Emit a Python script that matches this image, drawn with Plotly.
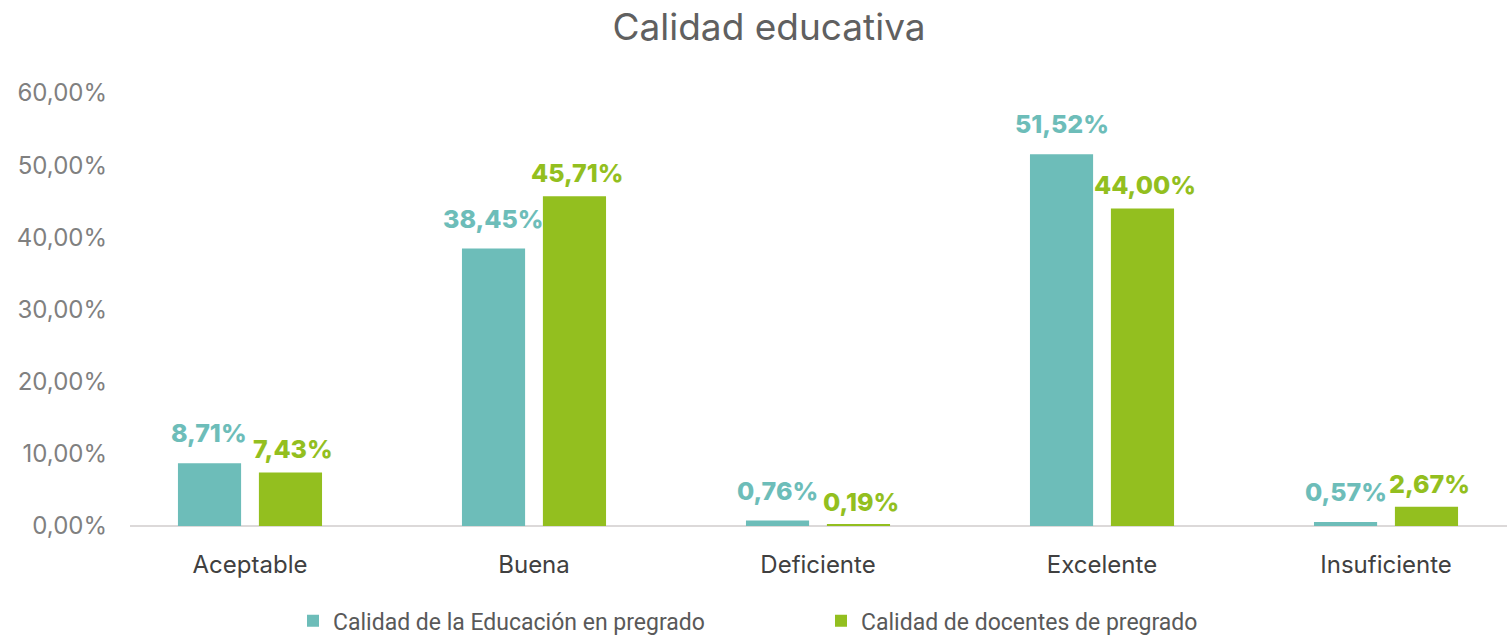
import plotly.graph_objects as go

categories = ["Aceptable", "Buena", "Deficiente", "Excelente", "Insuficiente"]
educacion = [8.71, 38.45, 0.76, 51.52, 0.57]
docentes = [7.43, 45.71, 0.19, 44.00, 2.67]
series_names = ["Calidad de la Educación en pregrado", "Calidad de docentes de pregrado"]
y_ticks = [0, 10, 20, 30, 40, 50, 60]


def pct(v):
    return f"{v:.2f}%".replace(".", ",")


TEAL = "#6dbdb9"
GREEN = "#93bf1f"
FONT = "Inter, Noto Sans, sans-serif"

fig = go.Figure()
# (name, values, colour, label x-offset px, label y-offset px)
series = [(series_names[0], educacion, TEAL, -40.5, 30),
          (series_names[1], docentes, GREEN, 43, 23)]
for name, vals, col, _, _ in series:
    fig.add_trace(go.Bar(
        x=categories, y=vals, name=name,
        marker=dict(color=col, line=dict(width=0)),
    ))

# value labels above each bar
for name, vals, col, dx, dy in series:
    for cat, v in zip(categories, vals):
        fig.add_annotation(
            x=cat, y=v, text=pct(v), showarrow=False,
            xanchor="center", yanchor="middle", xshift=dx, yshift=dy,
            font=dict(color=col, size=25, family=FONT, weight=800),
        )

fig.update_layout(
    width=1507, height=640,
    margin=dict(l=130, r=0, t=93, b=114),
    paper_bgcolor="white", plot_bgcolor="white",
    separators=",.",
    barmode="group", bargap=0.43, bargroupgap=0.22,
    title=dict(text="Calidad educativa", x=769 / 1507, xref="container", xanchor="center",
               y=1 - 27 / 640, yref="container", yanchor="middle",
               font=dict(size=37, color="#606060", family=FONT)),
    font=dict(family=FONT),
    showlegend=True,
    legend=dict(orientation="h", xref="container", x=293 / 1507, xanchor="left",
                yref="container", y=0.03, yanchor="middle",
                font=dict(size=23, color="#595959", family="Roboto, sans-serif"),
                entrywidth=483, itemwidth=30),
)
fig.update_xaxes(range=[-0.4225, 4.426], showgrid=False, showline=False, ticks="",
                 tickfont=dict(size=24, color="#404040", family=FONT), ticklabelstandoff=22)
fig.update_yaxes(range=[0, 60], tickmode="array", tickvals=y_ticks,
                 ticktext=[pct(v) for v in y_ticks],
                 showgrid=False, zeroline=True, zerolinecolor="#dcd9d9", zerolinewidth=2,
                 tickfont=dict(size=24, color="#808080", family=FONT), ticklabelstandoff=22)

fig.write_html("out.html")
